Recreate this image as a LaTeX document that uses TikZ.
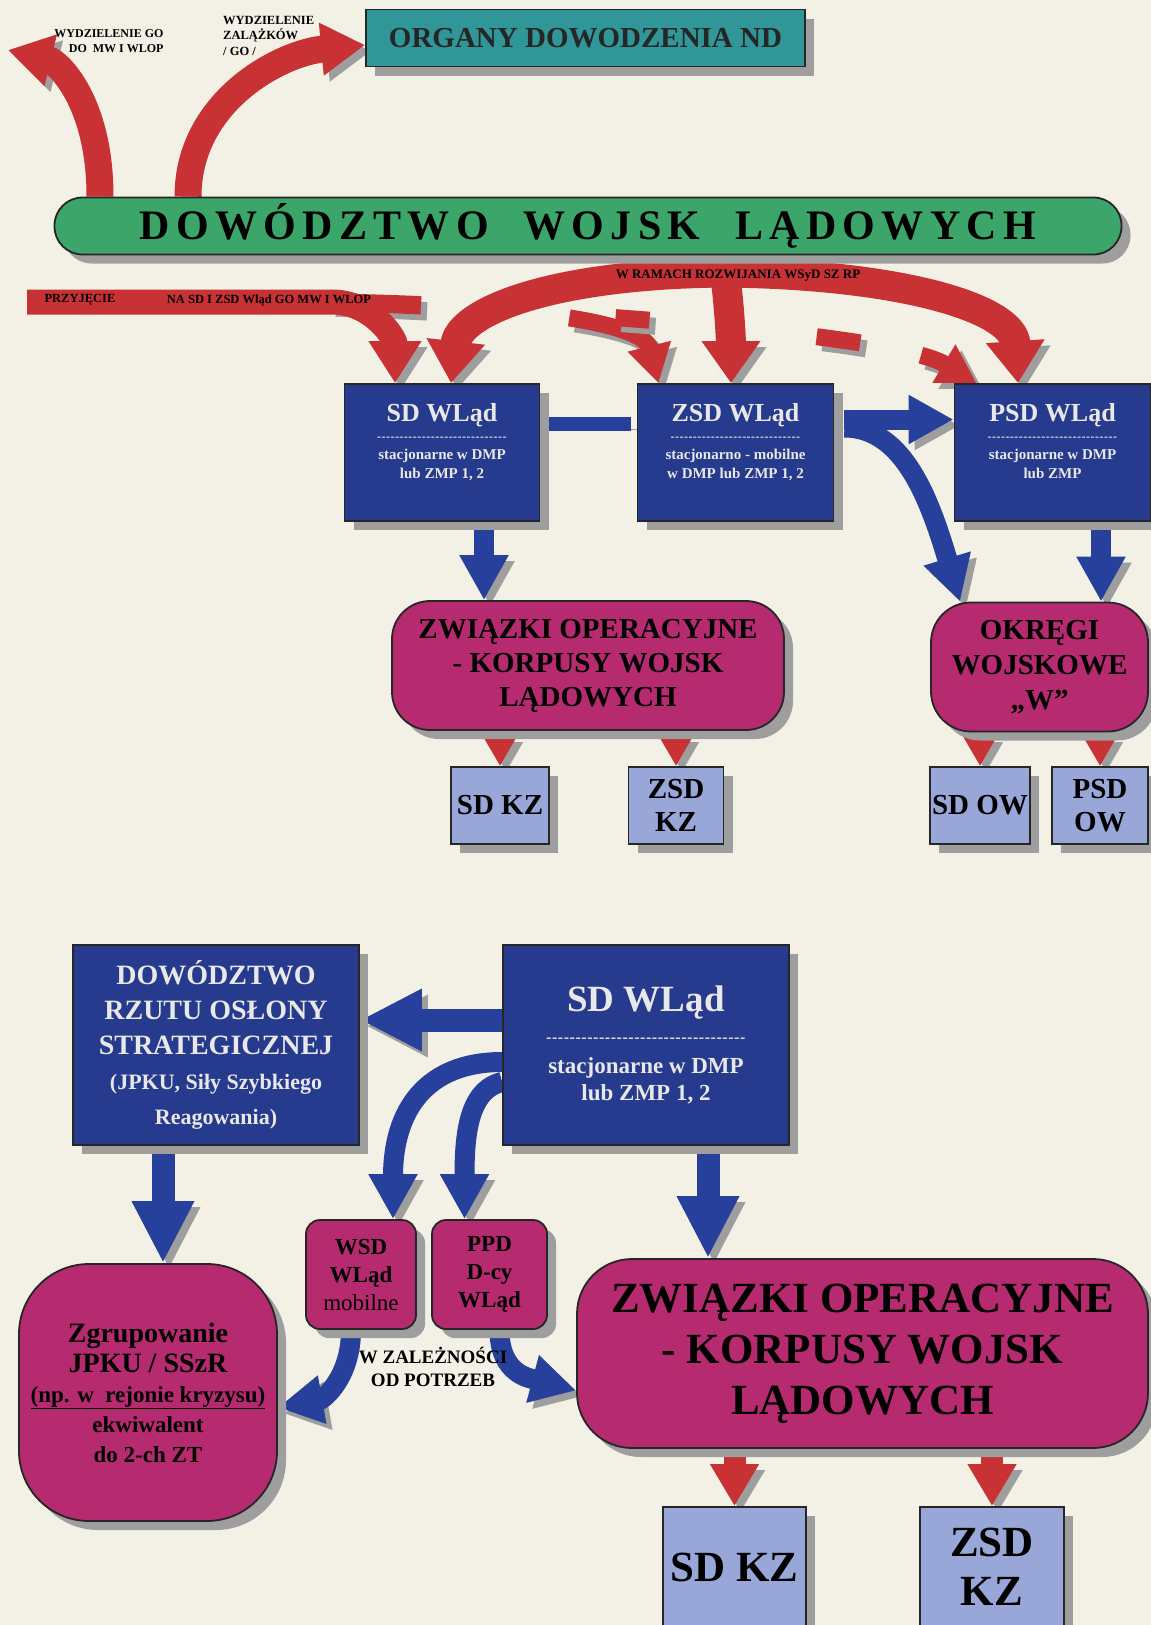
\documentclass[tikz,border=0pt]{standalone}
\usepackage{fontspec}
\setmainfont{Liberation Serif}
\usetikzlibrary{arrows.meta,shadows}
\definecolor{bgc}{RGB}{243,241,229}
\definecolor{tealc}{RGB}{48,150,152}
\definecolor{greenc}{RGB}{60,165,105}
\definecolor{redc}{RGB}{200,50,52}
\definecolor{boxblue}{RGB}{38,58,142}
\definecolor{bluec}{RGB}{38,64,155}
\definecolor{magc}{RGB}{182,42,112}
\definecolor{lblue}{RGB}{152,166,216}
\definecolor{shd}{RGB}{158,158,158}
\definecolor{wtxt}{RGB}{232,232,232}
\newcommand{\fs}[2]{\fontsize{#1}{#2}\selectfont}
\newcommand{\dline}[1]{\makebox[#1]{\xleaders\hbox{-\kern0.4pt}\hfill}}
\pgfdeclarelayer{back}
\pgfdeclarelayer{arrowlayer}
\pgfsetlayers{back,arrowlayer,main}
\begin{document}
\begin{tikzpicture}[x=1pt,y=-1pt,
 box/.style={draw=black!85,line width=1.8pt,inner sep=2pt,align=center,font=\bfseries,
   drop shadow={shadow xshift=9pt,shadow yshift=-9pt,fill=shd,opacity=1}},
 bluebox/.style={box,fill=boxblue,text=wtxt},
 magbox/.style={box,fill=magc,text=black,rounded corners=#1},
 lbbox/.style={box,fill=lblue,text=black},
 lbl/.style={inner sep=0pt,text=black},
 fat/.style n args={4}{draw=#4,line width=#1,-{Triangle[length=#2,width=#3]},
   preaction={draw=shd,transform canvas={shift={(6pt,-6pt)}}}},
 barr/.style={draw=bluec,line width=14pt,preaction={draw=shd,transform canvas={shift={(6pt,-6pt)}}}},
 bA/.style={fat={20pt}{45pt}{46pt}{bluec}},
 bB/.style={fat={23pt}{62pt}{58pt}{bluec}},
 rA/.style={fat={16pt}{30pt}{32pt}{redc}},
 rB/.style={fat={22pt}{42pt}{46pt}{redc}},
 rC/.style={fat={27pt}{44pt}{50pt}{redc}},
 rD/.style={fat={30pt}{42pt}{56pt}{redc}},
 rE/.style={draw=redc,line width=17pt,-{Triangle[length=38pt,width=42pt]}},
 rEs/.style={draw=shd,line width=17pt,-{Triangle[length=38pt,width=42pt]},transform canvas={shift={(6pt,-6pt)}}},
]
\begin{pgfonlayer}{back}
\fill[bgc] (0,0) rectangle (1151,1625);
\end{pgfonlayer}
\useasboundingbox (0,0) rectangle (1151,1625);

% ---------- top part
\node[box,fill=tealc,text=black!85,minimum width=439pt,minimum height=57pt,font=\bfseries\fs{29}{33}] (organy) at (585.5,38) {ORGANY DOWODZENIA ND};
\node[box,fill=greenc,text=black,rounded corners=28pt,minimum width=1067pt,minimum height=57pt,font=\bfseries\fs{42}{46}\addfontfeature{LetterSpace=15}] (banner) at (588,226) {DOWÓDZTWO\hspace{18pt} WOJSK\hspace{18pt} LĄDOWYCH};

\node[bluebox,minimum width=195pt,minimum height=137pt,font=\bfseries\fs{15}{19}] (sd1) at (442,452.5)
 {\fs{26}{30}SD WLąd\\[0pt]\fs{12}{12}\dline{130pt}\\stacjonarne w DMP\\lub ZMP 1, 2\\[4pt]};
\node[bluebox,minimum width=196pt,minimum height=137pt,font=\bfseries\fs{15}{19}] (zsd1) at (735.5,452.5)
 {\fs{26}{30}ZSD WLąd\\[0pt]\fs{12}{12}\dline{130pt}\\stacjonarno - mobilne\\w DMP lub ZMP 1, 2\\[4pt]};
\node[bluebox,minimum width=196pt,minimum height=137pt,font=\bfseries\fs{15}{19}] (psd1) at (1052.5,452.5)
 {\fs{26}{30}PSD WLąd\\[0pt]\fs{12}{12}\dline{130pt}\\stacjonarne w DMP\\lub ZMP\\[4pt]};

\node[magbox=38pt,minimum width=392pt,minimum height=129pt,font=\bfseries\fs{29}{34}] (zo1) at (588,665.5) {ZWIĄZKI OPERACYJNE\\- KORPUSY WOJSK\\LĄDOWYCH};
\node[magbox=40pt,minimum width=217pt,minimum height=129pt,font=\bfseries\fs{29}{35}] (okregi) at (1039.5,667) {OKRĘGI\\WOJSKOWE\\„W”};

\node[lbbox,minimum width=98pt,minimum height=77pt,font=\bfseries\fs{29}{33}] (sdkz1) at (500,805.5) {SD KZ};
\node[lbbox,minimum width=95pt,minimum height=77pt,font=\bfseries\fs{29}{33}] (zsdkz1) at (676,805.5) {ZSD\\KZ};
\node[lbbox,minimum width=99pt,minimum height=77pt,font=\bfseries\fs{29}{33}] (sdow) at (980,805.5) {SD OW};
\node[lbbox,minimum width=96pt,minimum height=77pt,font=\bfseries\fs{29}{33}] (psdow) at (1100,805.5) {PSD\\OW};

% ---------- bottom part
\node[bluebox,minimum width=286pt,minimum height=200pt,font=\bfseries\fs{28}{35}] (drs) at (216,1045)
 {DOWÓDZTWO\\RZUTU OSŁONY\\STRATEGICZNEJ\\\fs{22}{30}(JPKU, Siły Szybkiego\\\fs{22}{28}Reagowania)};
\node[bluebox,minimum width=286pt,minimum height=200pt,font=\bfseries\fs{23}{27}] (sd2) at (646,1045)
 {\fs{37}{40}SD WLąd\\[4pt]\fs{16}{16}\dline{200pt}\\[4pt]stacjonarne w DMP\\lub ZMP 1, 2};

\node[magbox=70pt,minimum width=258pt,minimum height=257pt,font=\bfseries\fs{23}{30}] (zgr) at (148,1392.5)
 {\fs{28}{33}Zgrupowanie\\\fs{28}{33}JPKU / SSzR\\\underline{(np. w\ \ rejonie kryzysu)}\\ekwiwalent\\do 2-ch ZT};
\node[magbox=14pt,minimum width=110pt,minimum height=109pt,font=\bfseries\fs{23}{28}] (wsd) at (361,1274.5) {WSD\\WLąd\\\mdseries mobilne};
\node[magbox=14pt,minimum width=115pt,minimum height=109pt,font=\bfseries\fs{23}{28}] (ppd) at (489.5,1274.5) {PPD\\D-cy\\WLąd};
\node[magbox=55pt,minimum width=571pt,minimum height=189pt,font=\bfseries\fs{43}{51}] (zo2) at (862.5,1353.5) {ZWIĄZKI OPERACYJNE\\- KORPUSY WOJSK\\LĄDOWYCH};
\node[lbbox,minimum width=143pt,minimum height=120pt,font=\bfseries\fs{43}{49}] (sdkz2) at (734.5,1567) {SD KZ};
\node[lbbox,minimum width=144pt,minimum height=120pt,font=\bfseries\fs{43}{49}] (zsdkz2) at (992,1567) {ZSD\\KZ};

% ---------- labels
\node[lbl,align=right,font=\bfseries\fs{12}{15}] (lab1) at (109,41) {WYDZIELENIE GO\\DO\ \ MW I WLOP};
\node[lbl,align=left,anchor=north west,font=\bfseries\fs{12.5}{15.5}] (lab2) at (223,16) {WYDZIELENIE\\ZALĄŻKÓW\\/ GO /};
\node[lbl,font=\bfseries\fs{12.5}{15}] (lab3) at (80,300) {PRZYJĘCIE};
\node[lbl,font=\bfseries\fs{12.5}{15}] (lab4) at (269,300) {NA SD I ZSD Wląd GO MW I WLOP};
\node[lbl,font=\bfseries\fs{13}{15}] (lab5) at (738,276) {W RAMACH ROZWIJANIA WSyD SZ RP};
\node[lbl,align=center,font=\bfseries\fs{19}{23}] (lab6) at (433,1367) {W ZALEŻNOŚCI\\OD POTRZEB};

% ---------- connectors
\begin{pgfonlayer}{arrowlayer}
\coordinate (tl) at (8,50);
\coordinate (pz) at (27,302);
\draw[rC] ([xshift=-488pt]banner.north) .. controls +(0,-95) and +(50,12) .. (tl);
\draw[rC] ([xshift=-400pt]banner.north) .. controls +(0,-95) and +(-85,8) .. ([yshift=-7pt]organy.west);
% dashed continuation (drawn first, partly hidden by the arch)
\draw[rEs,dash pattern=on 91pt off 149pt on 300pt] ([xshift=303pt]pz) .. controls +(200,3) and +(-15,-60) .. ([xshift=-77pt]zsd1.north);
\draw[rE,dash pattern=on 91pt off 149pt on 300pt] ([xshift=303pt]pz) .. controls +(200,3) and +(-15,-60) .. ([xshift=-77pt]zsd1.north);
\draw[rEs,dash pattern=on 91pt off 195pt on 34pt off 168pt on 44pt off 62pt on 300pt] ([xshift=303pt]pz) .. controls +(320,13) and +(-75,-45) .. ([xshift=-76pt]psd1.north);
\draw[rE,dash pattern=on 91pt off 195pt on 34pt off 168pt on 44pt off 62pt on 300pt] ([xshift=303pt]pz) .. controls +(320,13) and +(-75,-45) .. ([xshift=-76pt]psd1.north);
\draw[fat={25pt}{42pt}{50pt}{redc}] (pz) -- ++(305,0) .. controls +(40,0) and +(0,-45) .. ([xshift=-47pt]sd1.north);
\draw[rD] ([xshift=150pt,yshift=-17pt]banner.south) .. controls +(-190,0) and +(8,-70) .. ([xshift=9pt]sd1.north);
\draw[rD] ([xshift=137pt,yshift=-17pt]banner.south) .. controls +(5,40) and +(0,-40) .. ([xshift=-4.5pt]zsd1.north);
\draw[rD] ([xshift=120pt,yshift=-17pt]banner.south) .. controls +(190,0) and +(-5,-75) .. ([xshift=-34.5pt]psd1.north);

\draw[bA] ([xshift=42pt]sd1.south) -- ([xshift=-104pt]zo1.north);
\draw[barr] ([yshift=29pt]sd1.east) -- ([yshift=29pt,xshift=-6pt]zsd1.west);
\draw[bA] ([yshift=33pt,xshift=10pt]zsd1.east) -- ([yshift=33pt]psd1.west);
\draw[bA] ([yshift=25pt,xshift=10pt]zsd1.east) .. controls +(60,0) and +(-30,-100) .. ([xshift=30pt]okregi.north west);
\draw[bA] ([xshift=48.5pt]psd1.south) -- ([xshift=61.5pt]okregi.north);

\draw[rA] ([xshift=-88pt]zo1.south) -- (sdkz1.north);
\draw[rA] ([xshift=88pt]zo1.south) -- (zsdkz1.north);
\draw[rA] ([xshift=-59.5pt]okregi.south) -- (sdow.north);
\draw[rA] ([xshift=60.5pt]okregi.south) -- (psdow.north);

\draw[bB] ([yshift=25pt]sd2.west) -- ([yshift=25pt]drs.east);
\draw[bB] ([xshift=-53pt]drs.south) -- ([xshift=15pt]zgr.north);
\draw[bB] ([xshift=62pt]sd2.south) -- ([xshift=-154.5pt]zo2.north);
\draw[bA] ([yshift=-17pt]sd2.west) .. controls +(-75,0) and +(0,-110) .. ([xshift=32pt]wsd.north);
\draw[bA] ([yshift=-37pt]sd2.west) .. controls +(-35,8) and +(0,-80) .. ([xshift=-25pt]ppd.north);
\draw[bA] ([xshift=-10pt]wsd.south) .. controls +(0,48) and +(45,-8) .. ([yshift=-15pt]zgr.east);
\draw[bA] ([xshift=10pt]ppd.south) .. controls +(0,45) and +(-45,-12) .. ([yshift=-37pt]zo2.west);

\draw[rB] ([xshift=-128pt]zo2.south) -- (sdkz2.north);
\draw[rB] ([xshift=129.5pt]zo2.south) -- (zsdkz2.north);
\end{pgfonlayer}
\end{tikzpicture}
\end{document}
